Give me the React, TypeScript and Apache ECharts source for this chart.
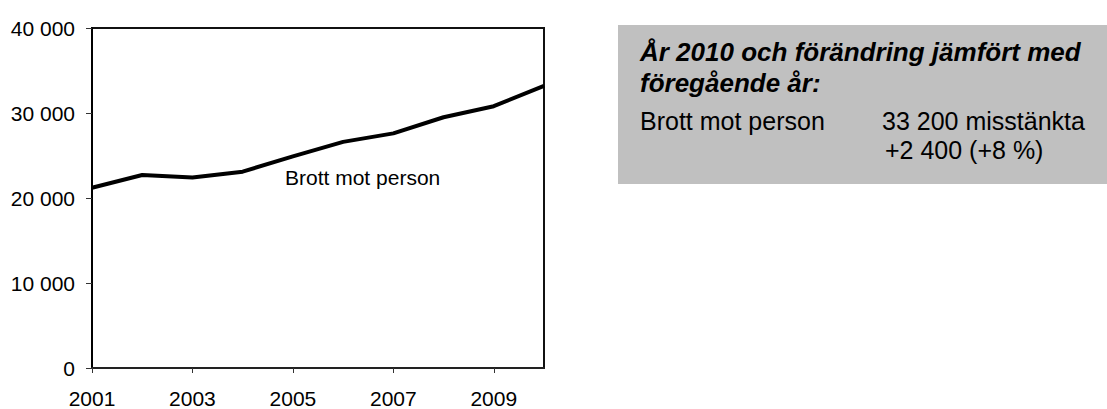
import React, { useEffect, useRef } from "react";
import * as echarts from "echarts";

const years = ["2001", "2002", "2003", "2004", "2005", "2006", "2007", "2008", "2009", "2010"];
const brottMotPerson = [21200, 22700, 22400, 23100, 24900, 26600, 27600, 29500, 30800, 33200];
const yTicks = { min: 0, max: 40000, interval: 10000 };
const seriesLabel = "Brott mot person";
const boxTitle1 = "År 2010 och förändring jämfört med";
const boxTitle2 = "föregående år:";
const boxRowName = "Brott mot person";
const boxRowValue = "33 200 misstänkta";
const boxRowChange = "+2 400 (+8 %)";

const FONT = "'Liberation Sans', Arial, Helvetica, sans-serif";

function fmt(v: number): string {
  return String(v).replace(/\B(?=(\d{3})+(?!\d))/g, " ");
}

export default function App() {
  const ref = useRef<HTMLDivElement>(null);
  useEffect(() => {
    document.body.style.margin = "0";
    const chart = echarts.init(ref.current!, null, { renderer: "svg" });
    const titleFs = 26;
    const boxFs = 25;
    const mid = (baseline: number, fs: number) => baseline - 0.347 * fs;
    chart.setOption({
      animation: false,
      backgroundColor: "#fff",
      grid: {
        left: 92,
        right: 563,
        top: 28,
        bottom: 41,
        show: true,
        borderColor: "#111",
        borderWidth: 2,
        backgroundColor: "transparent",
      },
      xAxis: {
        type: "category",
        data: years,
        boundaryGap: false,
        axisLine: { show: true, lineStyle: { color: "#222", width: 2 } },
        axisTick: { show: true, interval: 1, length: 5, lineStyle: { color: "#333", width: 1 } },
        axisLabel: { interval: 1, margin: 20, color: "#000", fontSize: 21, fontFamily: FONT },
        splitLine: { show: false },
      },
      yAxis: {
        type: "value",
        min: yTicks.min,
        max: yTicks.max,
        interval: yTicks.interval,
        axisLine: { show: true, lineStyle: { color: "#000", width: 2 } },
        axisTick: { show: true, length: 6, lineStyle: { color: "#333", width: 1 } },
        axisLabel: {
          margin: 17,
          color: "#000",
          fontSize: 21,
          fontFamily: FONT,
          formatter: (v: number) => fmt(v),
        },
        splitLine: { show: false },
      },
      series: [
        {
          type: "line",
          data: brottMotPerson,
          symbol: "none",
          lineStyle: { color: "#000", width: 4 },
          z: 3,
        },
      ],
      graphic: [
        {
          type: "text",
          x: 285,
          y: mid(185, 21),
          style: { text: seriesLabel, fill: "#000", font: `21px ${FONT}`, textVerticalAlign: "middle", lineHeight: 21 },
        },
        {
          type: "rect",
          shape: { x: 618, y: 25, width: 489, height: 159 },
          style: { fill: "#c0c0c0" },
          z: -1,
        },
        {
          type: "text",
          x: 640,
          y: mid(61, titleFs),
          style: { text: boxTitle1, fill: "#000", font: `italic bold ${titleFs}px ${FONT}`, textVerticalAlign: "middle", lineHeight: 28 },
        },
        {
          type: "text",
          x: 640,
          y: mid(92, titleFs),
          style: { text: boxTitle2, fill: "#000", font: `italic bold ${titleFs}px ${FONT}`, textVerticalAlign: "middle", lineHeight: 28 },
        },
        {
          type: "text",
          x: 640,
          y: mid(130, boxFs),
          style: { text: boxRowName, fill: "#000", font: `${boxFs}px ${FONT}`, textVerticalAlign: "middle", lineHeight: 25 },
        },
        {
          type: "text",
          x: 882,
          y: mid(130, boxFs),
          style: { text: boxRowValue, fill: "#000", font: `${boxFs}px ${FONT}`, textVerticalAlign: "middle", lineHeight: 25 },
        },
        {
          type: "text",
          x: 885,
          y: mid(159, boxFs),
          style: { text: boxRowChange, fill: "#000", font: `${boxFs}px ${FONT}`, textVerticalAlign: "middle", lineHeight: 25 },
        },
      ],
    });
    return () => chart.dispose();
  }, []);
  return <div ref={ref} style={{ width: 1107, height: 409 }} />;
}
